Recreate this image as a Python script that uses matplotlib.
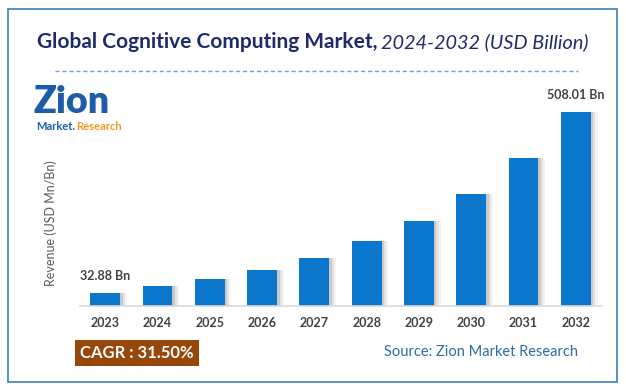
import matplotlib.pyplot as plt
import matplotlib.patches as mpatches
import numpy as np

years = ["2023", "2024", "2025", "2026", "2027", "2028", "2029", "2030", "2031", "2032"]
revenue = [32.88, 53, 71, 94, 126, 170, 223, 293, 388, 508.01]
first_label = "32.88 Bn"
last_label = "508.01 Bn"

plt.rcParams['font.family'] = ['Lato', 'DejaVu Sans']

fig = plt.figure(figsize=(6.26, 3.92), dpi=100)
fig.patch.set_facecolor("white")

# outer frame
fig.add_artist(mpatches.Rectangle((8 / 626, 1 - 382 / 392), 609 / 626, 373 / 392,
                                  transform=fig.transFigure, fill=False,
                                  edgecolor="#3a7ebf", linewidth=1.2))

ax = fig.add_axes([80 / 626, 86 / 392, 522 / 626, 206 / 392])
x = np.arange(len(years))

# soft shadow on the right of the bars
for off, a in [(0.05, 0.25), (0.09, 0.15), (0.13, 0.08)]:
    ax.bar(x + off, revenue, width=0.57, color="#7f7f7f", alpha=a, zorder=1, linewidth=0)
ax.bar(x, revenue, width=0.57, color="#0a76cc", zorder=2, linewidth=0)

ax.set_xlim(-0.48, 9.5)
ax.set_ylim(0, 539.4)
ax.set_yticks([])
ax.set_xticks(x)
ax.set_xticklabels(years, fontsize=9, fontweight="bold", color="#404040")
ax.tick_params(axis="x", length=0, pad=8)
for s in ["top", "right", "left"]:
    ax.spines[s].set_visible(False)
ax.spines["bottom"].set_color("#d9d9d9")
ax.spines["bottom"].set_linewidth(1.2)
ax.set_ylabel("Revenue (USD Mn/Bn)", fontsize=9, color="#595959")
ax.yaxis.set_label_coords(-0.045, 0.40)

ax.annotate(first_label, (x[0], revenue[0]), xytext=(0, 8), textcoords="offset points",
            ha="center", va="bottom", fontsize=9, fontweight="bold", color="#404040")
ax.annotate(last_label, (x[-1], revenue[-1]), xytext=(0, 8), textcoords="offset points",
            ha="center", va="bottom", fontsize=9, fontweight="bold", color="#404040")

# title
t1 = fig.text(37 / 626, 1 - 42 / 392, "Global Cognitive Computing Market,", fontsize=15,
              fontweight="bold", color="#1f2a6b", va="center", ha="left")
fig.canvas.draw()
bb = t1.get_window_extent()
fig.text((bb.x1 + 4) / 626, 1 - 42 / 392, "2024-2032 (USD Billion)", fontsize=14.3,
         style="italic", color="#1f2a6b", va="center", ha="left")

# dashed separator
fig.add_artist(plt.Line2D([55 / 626, 578 / 626], [1 - 71 / 392] * 2, transform=fig.transFigure,
                          color="#6f9fd6", linewidth=1, linestyle=(0, (3, 2))))

# logo as text
fig.text(33 / 626, 1 - 102 / 392, "Zion", fontsize=27, fontweight="heavy", color="#1d5ca8",
         va="center", ha="left")
fig.text(36 / 626, 1 - 126 / 392, "Market.", fontsize=8, fontweight="bold", color="#1d5ca8",
         va="center", ha="left")
fig.text(76 / 626, 1 - 126 / 392, "Research", fontsize=8, fontweight="bold", color="#f29a1f",
         va="center", ha="left")

# CAGR box
fig.text(80 / 626, 1 - 353 / 392, "CAGR : 31.50%", fontsize=12, fontweight="bold", color="white",
         va="center", ha="left",
         bbox=dict(boxstyle="square,pad=0.3", facecolor="#97470a", edgecolor="none"))

fig.text(578 / 626, 1 - 352 / 392, "Source: Zion Market Research", fontsize=10.5,
         color="#2e6aa8", va="center", ha="right")

fig.savefig("out.png", dpi=100)
